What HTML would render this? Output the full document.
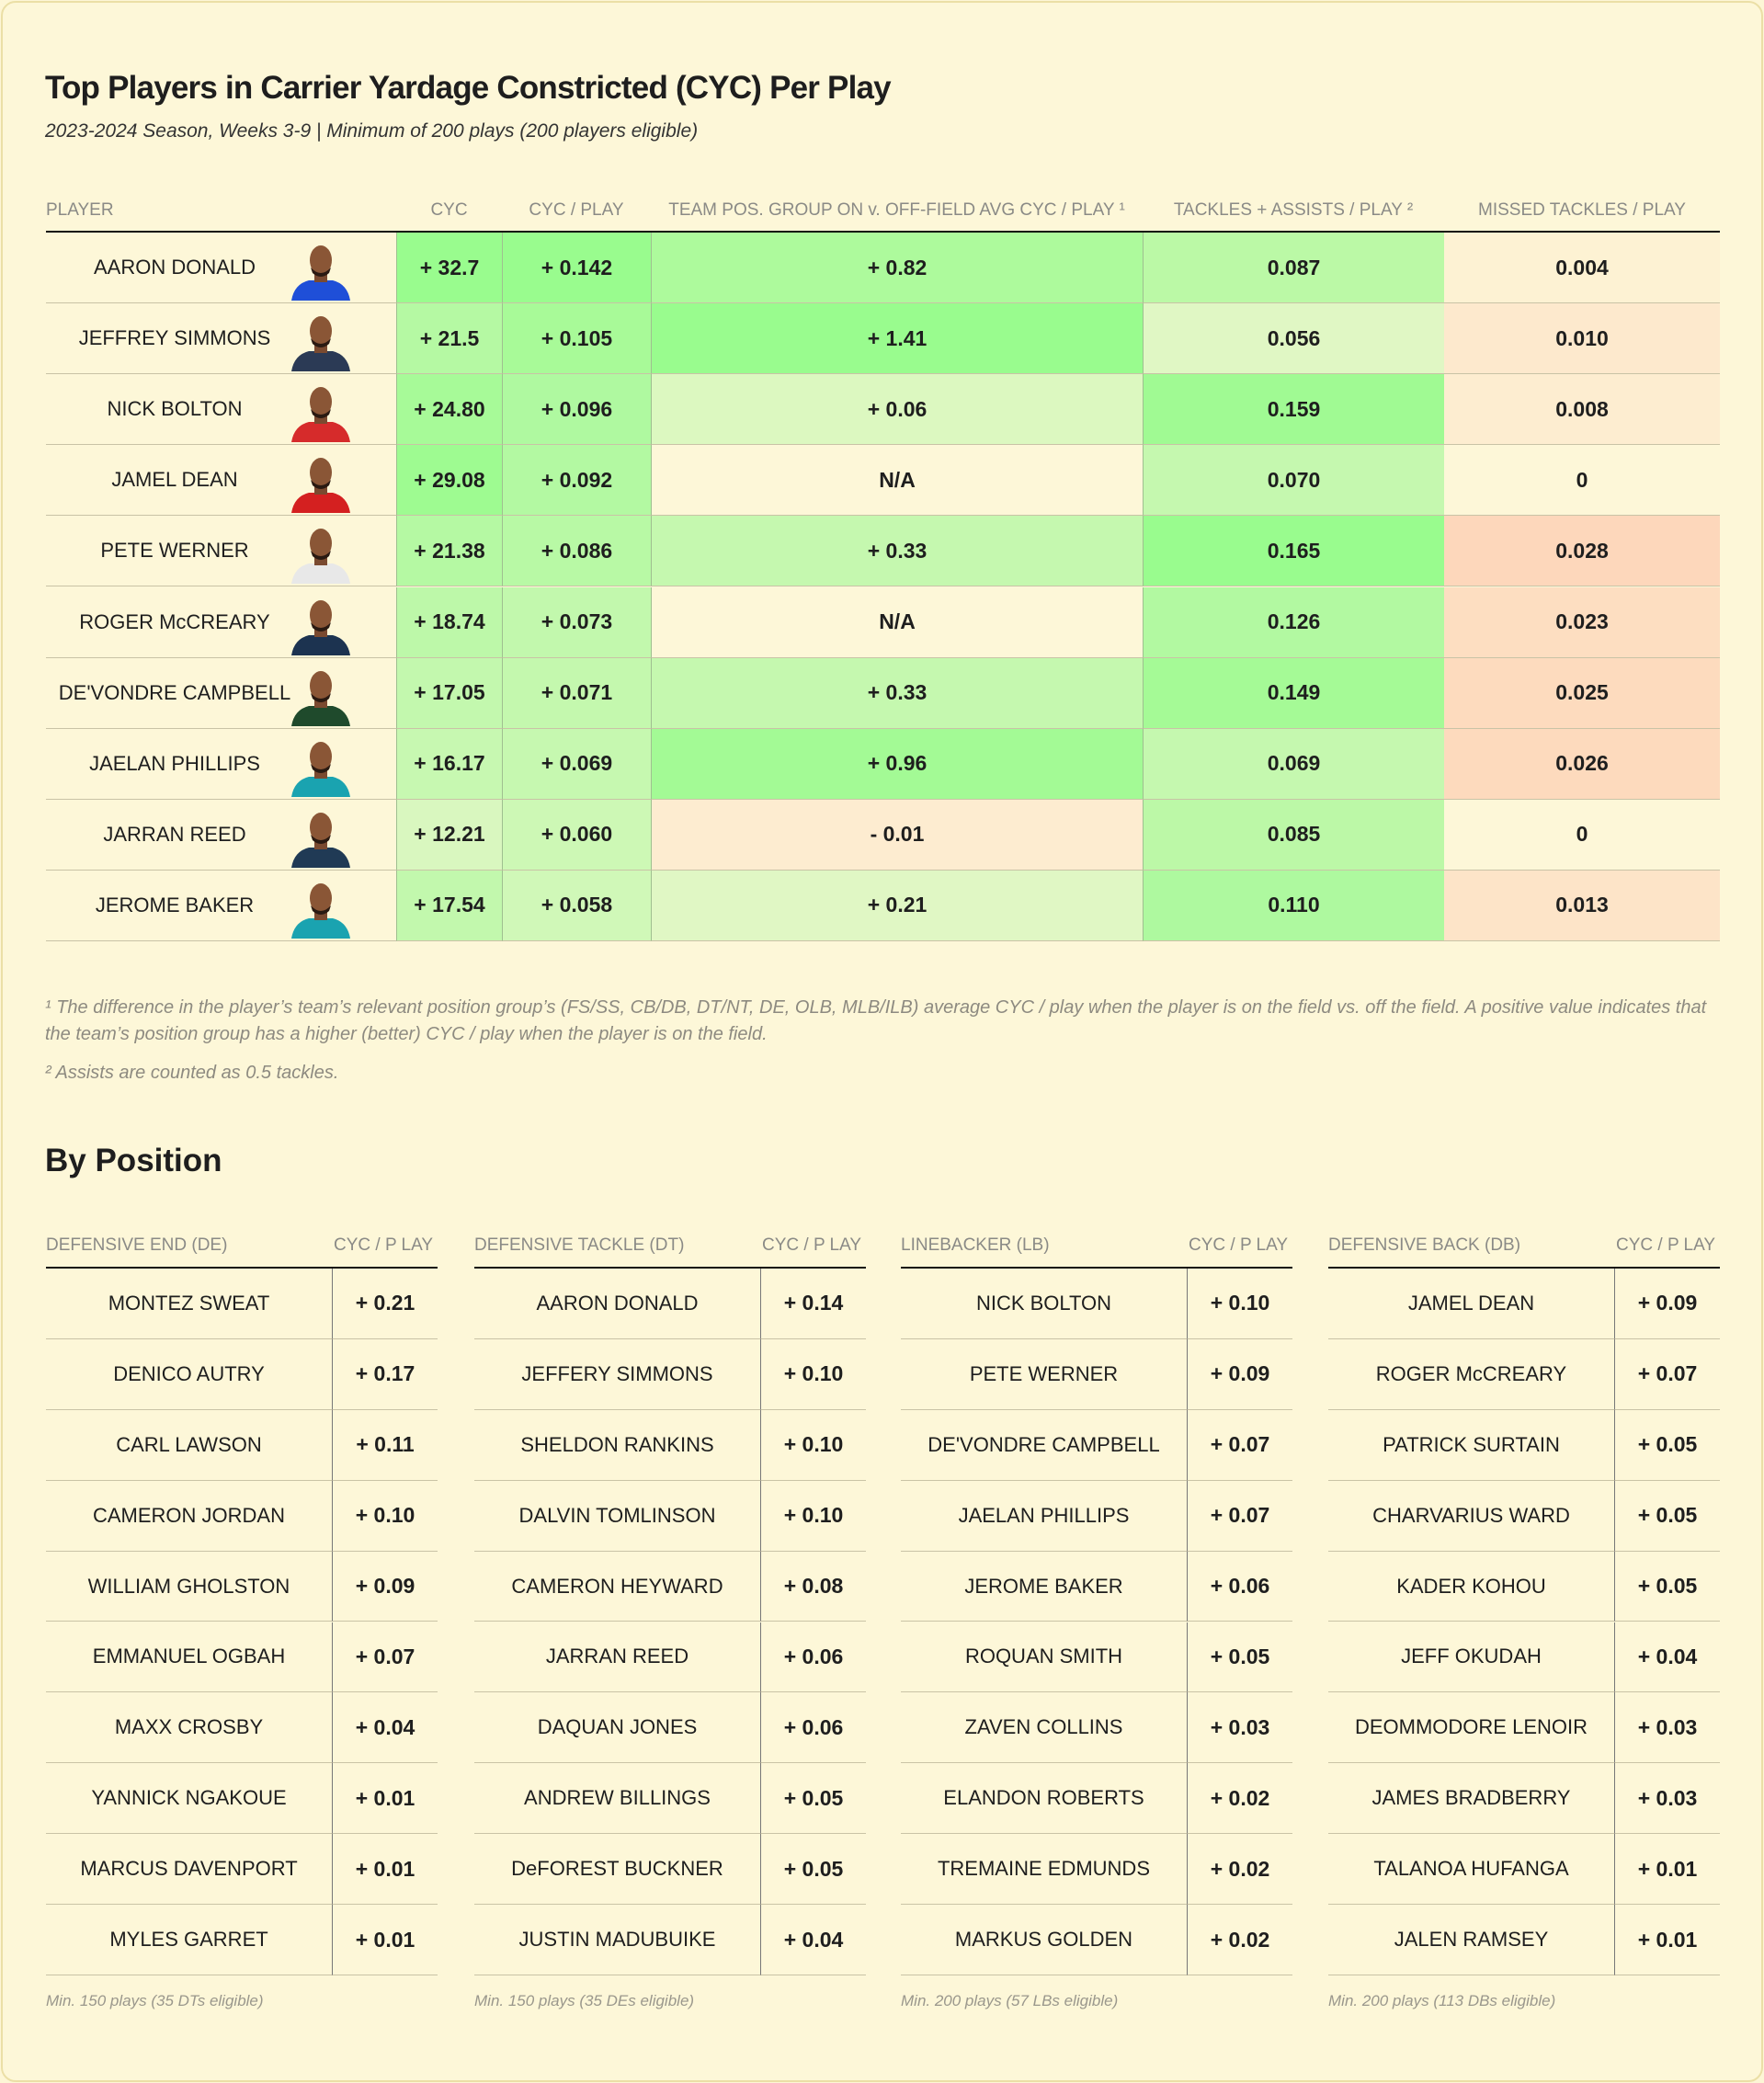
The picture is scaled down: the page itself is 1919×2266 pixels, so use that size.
<!DOCTYPE html>
<html><head><meta charset="utf-8"><style>
*{margin:0;padding:0;box-sizing:border-box}
body{width:1919px;height:2266px;background:#fdf6d6;font-family:"Liberation Sans",sans-serif;color:#1e1e1e;overflow:hidden}
#card{position:absolute;left:1px;top:1px;width:1917px;height:2264px;border:2px solid #ebdfa6;border-radius:16px;background:#fdf7d8}
#inner{position:absolute;left:-3px;top:-3px;width:1919px;height:2266px}
.abs{position:absolute}
.t{position:absolute;white-space:nowrap}
.cell{position:absolute;display:flex;align-items:center;justify-content:center;font-weight:bold;font-size:23px;border-bottom:1.5px solid #c9c3a6}
.hdr{position:absolute;font-size:19px;color:#8a8a86;white-space:nowrap;transform:translateX(-50%)}
.nm{font-size:22px;font-weight:normal}
.foot{font-size:20px;color:#8d8a80;font-style:italic}
</style></head><body>
<div id="card"><div id="inner">
<div class="t" style="left:49px;top:76px;font-size:35px;font-weight:bold;letter-spacing:-0.8px">Top Players in Carrier Yardage Constricted (CYC) Per Play</div>
<div class="t" style="left:49px;top:131px;font-size:21px;font-style:italic;color:#333">2023-2024 Season, Weeks 3-9 | Minimum of 200 plays (200 players eligible)</div>
<div id="topTbl"></div>
<div class="t foot" style="left:49px;top:1082px;line-height:29px;white-space:normal;width:1830px">¹ The difference in the player’s team’s relevant position group’s (FS/SS, CB/DB, DT/NT, DE, OLB, MLB/ILB) average CYC / play when the player is on the field vs. off the field. A positive value indicates that the team’s position group has a higher (better) CYC / play when the player is on the field.</div>
<div class="t foot" style="left:49px;top:1156px">² Assists are counted as 0.5 tackles.</div>
<div class="t" style="left:49px;top:1243px;font-size:35px;font-weight:bold">By Position</div>
<div id="posTbl"></div>
</div></div>
<script>
const players=["AARON DONALD","JEFFREY SIMMONS","NICK BOLTON","JAMEL DEAN","PETE WERNER","ROGER McCREARY","DE'VONDRE CAMPBELL","JAELAN PHILLIPS","JARRAN REED","JEROME BAKER"];
const cyc=["+ 32.7","+ 21.5","+ 24.80","+ 29.08","+ 21.38","+ 18.74","+ 17.05","+ 16.17","+ 12.21","+ 17.54"];
const cycPlay=["+ 0.142","+ 0.105","+ 0.096","+ 0.092","+ 0.086","+ 0.073","+ 0.071","+ 0.069","+ 0.060","+ 0.058"];
const teamDiff=["+ 0.82","+ 1.41","+ 0.06","N/A","+ 0.33","N/A","+ 0.33","+ 0.96","- 0.01","+ 0.21"];
const tackles=["0.087","0.056","0.159","0.070","0.165","0.126","0.149","0.069","0.085","0.110"];
const missed=["0.004","0.010","0.008","0","0.028","0.023","0.025","0.026","0","0.013"];
const jersey=["#1f4fd8","#2b3a55","#d62b2b","#d42020","#e8e8e8","#1c3350","#1f4a2c","#1aa3b0","#203a55","#1aa3b0"];
const colCyc=["#99fc8e","#b5f9a3","#a7fa98","#9efb91","#b5f9a3","#bdf8a9","#c3f8ae","#c7f8b1","#d9f7bf","#c2f8ad"];
const colCP=["#99fc8e","#a8fa98","#aff9a0","#b3f9a2","#b8f9a5","#c2f8ad","#c4f8ae","#c6f8b0","#cdf8b5","#d0f8b8"];
const colTeam=["#adfa9c","#99fc8e","#dcf8c0","#fdf7d8","#c5f8af","#fdf7d8","#c5f8af","#a3fa95","#fdecd0","#e0f7c4"];
const colTk=["#bbf9a6","#e0f7c4","#a0fa93","#c5f8af","#99fc8e","#b2f9a1","#a5fa96","#c5f8af","#bcf8a7","#aef99f"];
const colMs=["#fdf2d3","#fde9cd","#fdedd0","#fdf7d8","#fdd7bb","#fddec1","#fddbbe","#fddabd","#fdf7d8","#fde4c8"];
const heads=["PLAYER","CYC","CYC / PLAY","TEAM POS. GROUP ON v. OFF-FIELD AVG CYC / PLAY ¹","TACKLES + ASSISTS / PLAY ²","MISSED TACKLES / PLAY"];
const colX=[50,431,546,708,1243,1571,1871];
const topTbl=document.getElementById('topTbl');
const rowTop=252,rowH=77.1;
heads.forEach((h,i)=>{
 const e=document.createElement('div');e.className='hdr';e.textContent=h;
 e.style.top='218px';
 if(i==0){e.style.left='50px';e.style.transform='none';}else e.style.left=((colX[i]+colX[i+1])/2)+'px';
 
 
 topTbl.appendChild(e);
});
const hl=document.createElement('div');hl.className='abs';hl.style.cssText='left:50px;top:251px;width:1821px;height:2px;background:#111';


topTbl.appendChild(hl);
const cols=[cyc,cycPlay,teamDiff,tackles,missed];
const colors=[colCyc,colCP,colTeam,colTk,colMs];
players.forEach((p,r)=>{
 const y=rowTop+r*rowH+1;
 const pc=document.createElement('div');pc.className='cell nm';
 pc.style.cssText=`left:50px;top:${y}px;width:381px;height:${rowH}px;justify-content:flex-start`;
 pc.innerHTML=`<span style="position:absolute;left:0;width:280px;text-align:center">${p}</span><svg style="position:absolute;left:264px;top:10px" width="70" height="64" viewBox="0 0 70 64"><path d="M3 64 Q6 46 22 42 L48 42 Q64 46 67 64Z" fill="${jersey[r]}"/><rect x="28" y="32" width="14" height="12" fill="#7a4a30"/><ellipse cx="35" cy="20" rx="12" ry="16" fill="#8a5636"/><path d="M24 28 Q35 40 46 28 L44 34 Q35 42 26 34Z" fill="#2a1a12"/></svg>`;
 
 
 topTbl.appendChild(pc);
 cols.forEach((arr,c)=>{
  const e=document.createElement('div');e.className='cell';
  e.style.cssText=`left:${colX[c+1]}px;top:${y}px;width:${colX[c+2]-colX[c+1]}px;height:${rowH}px;background:${colors[c][r]};border-left:${c<4?'1px solid #9fbf90':'none'}`;
  e.textContent=arr[r];
  
  
  topTbl.appendChild(e);
 });
});
const posTitles=["DEFENSIVE END (DE)","DEFENSIVE TACKLE (DT)","LINEBACKER (LB)","DEFENSIVE BACK (DB)"];
const posNames=[
["MONTEZ SWEAT","DENICO AUTRY","CARL LAWSON","CAMERON JORDAN","WILLIAM GHOLSTON","EMMANUEL OGBAH","MAXX CROSBY","YANNICK NGAKOUE","MARCUS DAVENPORT","MYLES GARRET"],
["AARON DONALD","JEFFERY SIMMONS","SHELDON RANKINS","DALVIN TOMLINSON","CAMERON HEYWARD","JARRAN REED","DAQUAN JONES","ANDREW BILLINGS","DeFOREST BUCKNER","JUSTIN MADUBUIKE"],
["NICK BOLTON","PETE WERNER","DE'VONDRE CAMPBELL","JAELAN PHILLIPS","JEROME BAKER","ROQUAN SMITH","ZAVEN COLLINS","ELANDON ROBERTS","TREMAINE EDMUNDS","MARKUS GOLDEN"],
["JAMEL DEAN","ROGER McCREARY","PATRICK SURTAIN","CHARVARIUS WARD","KADER KOHOU","JEFF OKUDAH","DEOMMODORE LENOIR","JAMES BRADBERRY","TALANOA HUFANGA","JALEN RAMSEY"]];
const posVals=[
["+ 0.21","+ 0.17","+ 0.11","+ 0.10","+ 0.09","+ 0.07","+ 0.04","+ 0.01","+ 0.01","+ 0.01"],
["+ 0.14","+ 0.10","+ 0.10","+ 0.10","+ 0.08","+ 0.06","+ 0.06","+ 0.05","+ 0.05","+ 0.04"],
["+ 0.10","+ 0.09","+ 0.07","+ 0.07","+ 0.06","+ 0.05","+ 0.03","+ 0.02","+ 0.02","+ 0.02"],
["+ 0.09","+ 0.07","+ 0.05","+ 0.05","+ 0.05","+ 0.04","+ 0.03","+ 0.03","+ 0.01","+ 0.01"]];
const posFoot=["Min. 150 plays (35 DTs eligible)","Min. 150 plays (35 DEs eligible)","Min. 200 plays (57 LBs eligible)","Min. 200 plays (113 DBs eligible)"];
const blockX=[50,516,980,1445];
const posTbl=document.getElementById('posTbl');
posTitles.forEach((t,b)=>{
 const x=blockX[b];
 let e=document.createElement('div');e.className='t';e.style.cssText=`left:${x}px;top:1344px;font-size:19px;color:#8a8a86`;e.textContent=t;
 
 
 posTbl.appendChild(e);
 e=document.createElement('div');e.className='t';e.style.cssText=`left:${x+313}px;top:1344px;font-size:19px;color:#8a8a86`;e.textContent='CYC / P LAY';
 
 
 posTbl.appendChild(e);
 e=document.createElement('div');e.className='abs';e.style.cssText=`left:${x}px;top:1378px;width:426px;height:2px;background:#111`;
 
 
 posTbl.appendChild(e);
 posNames[b].forEach((n,r)=>{
  const y=1380+r*76.9;
  let c=document.createElement('div');c.className='cell nm';c.style.cssText=`left:${x}px;top:${y}px;width:312px;height:76.9px;border-right:1.5px solid #777`;c.textContent=n;
  
  
  posTbl.appendChild(c);
  c=document.createElement('div');c.className='cell';c.style.cssText=`left:${x+312}px;top:${y}px;width:114px;height:76.9px`;c.textContent=posVals[b][r];
  
  
  posTbl.appendChild(c);
 });
 e=document.createElement('div');e.className='t';e.style.cssText=`left:${x}px;top:2167px;font-size:17px;font-style:italic;color:#9a978c`;e.textContent=posFoot[b];
 
 
 posTbl.appendChild(e);
});
</script>
</body></html>
